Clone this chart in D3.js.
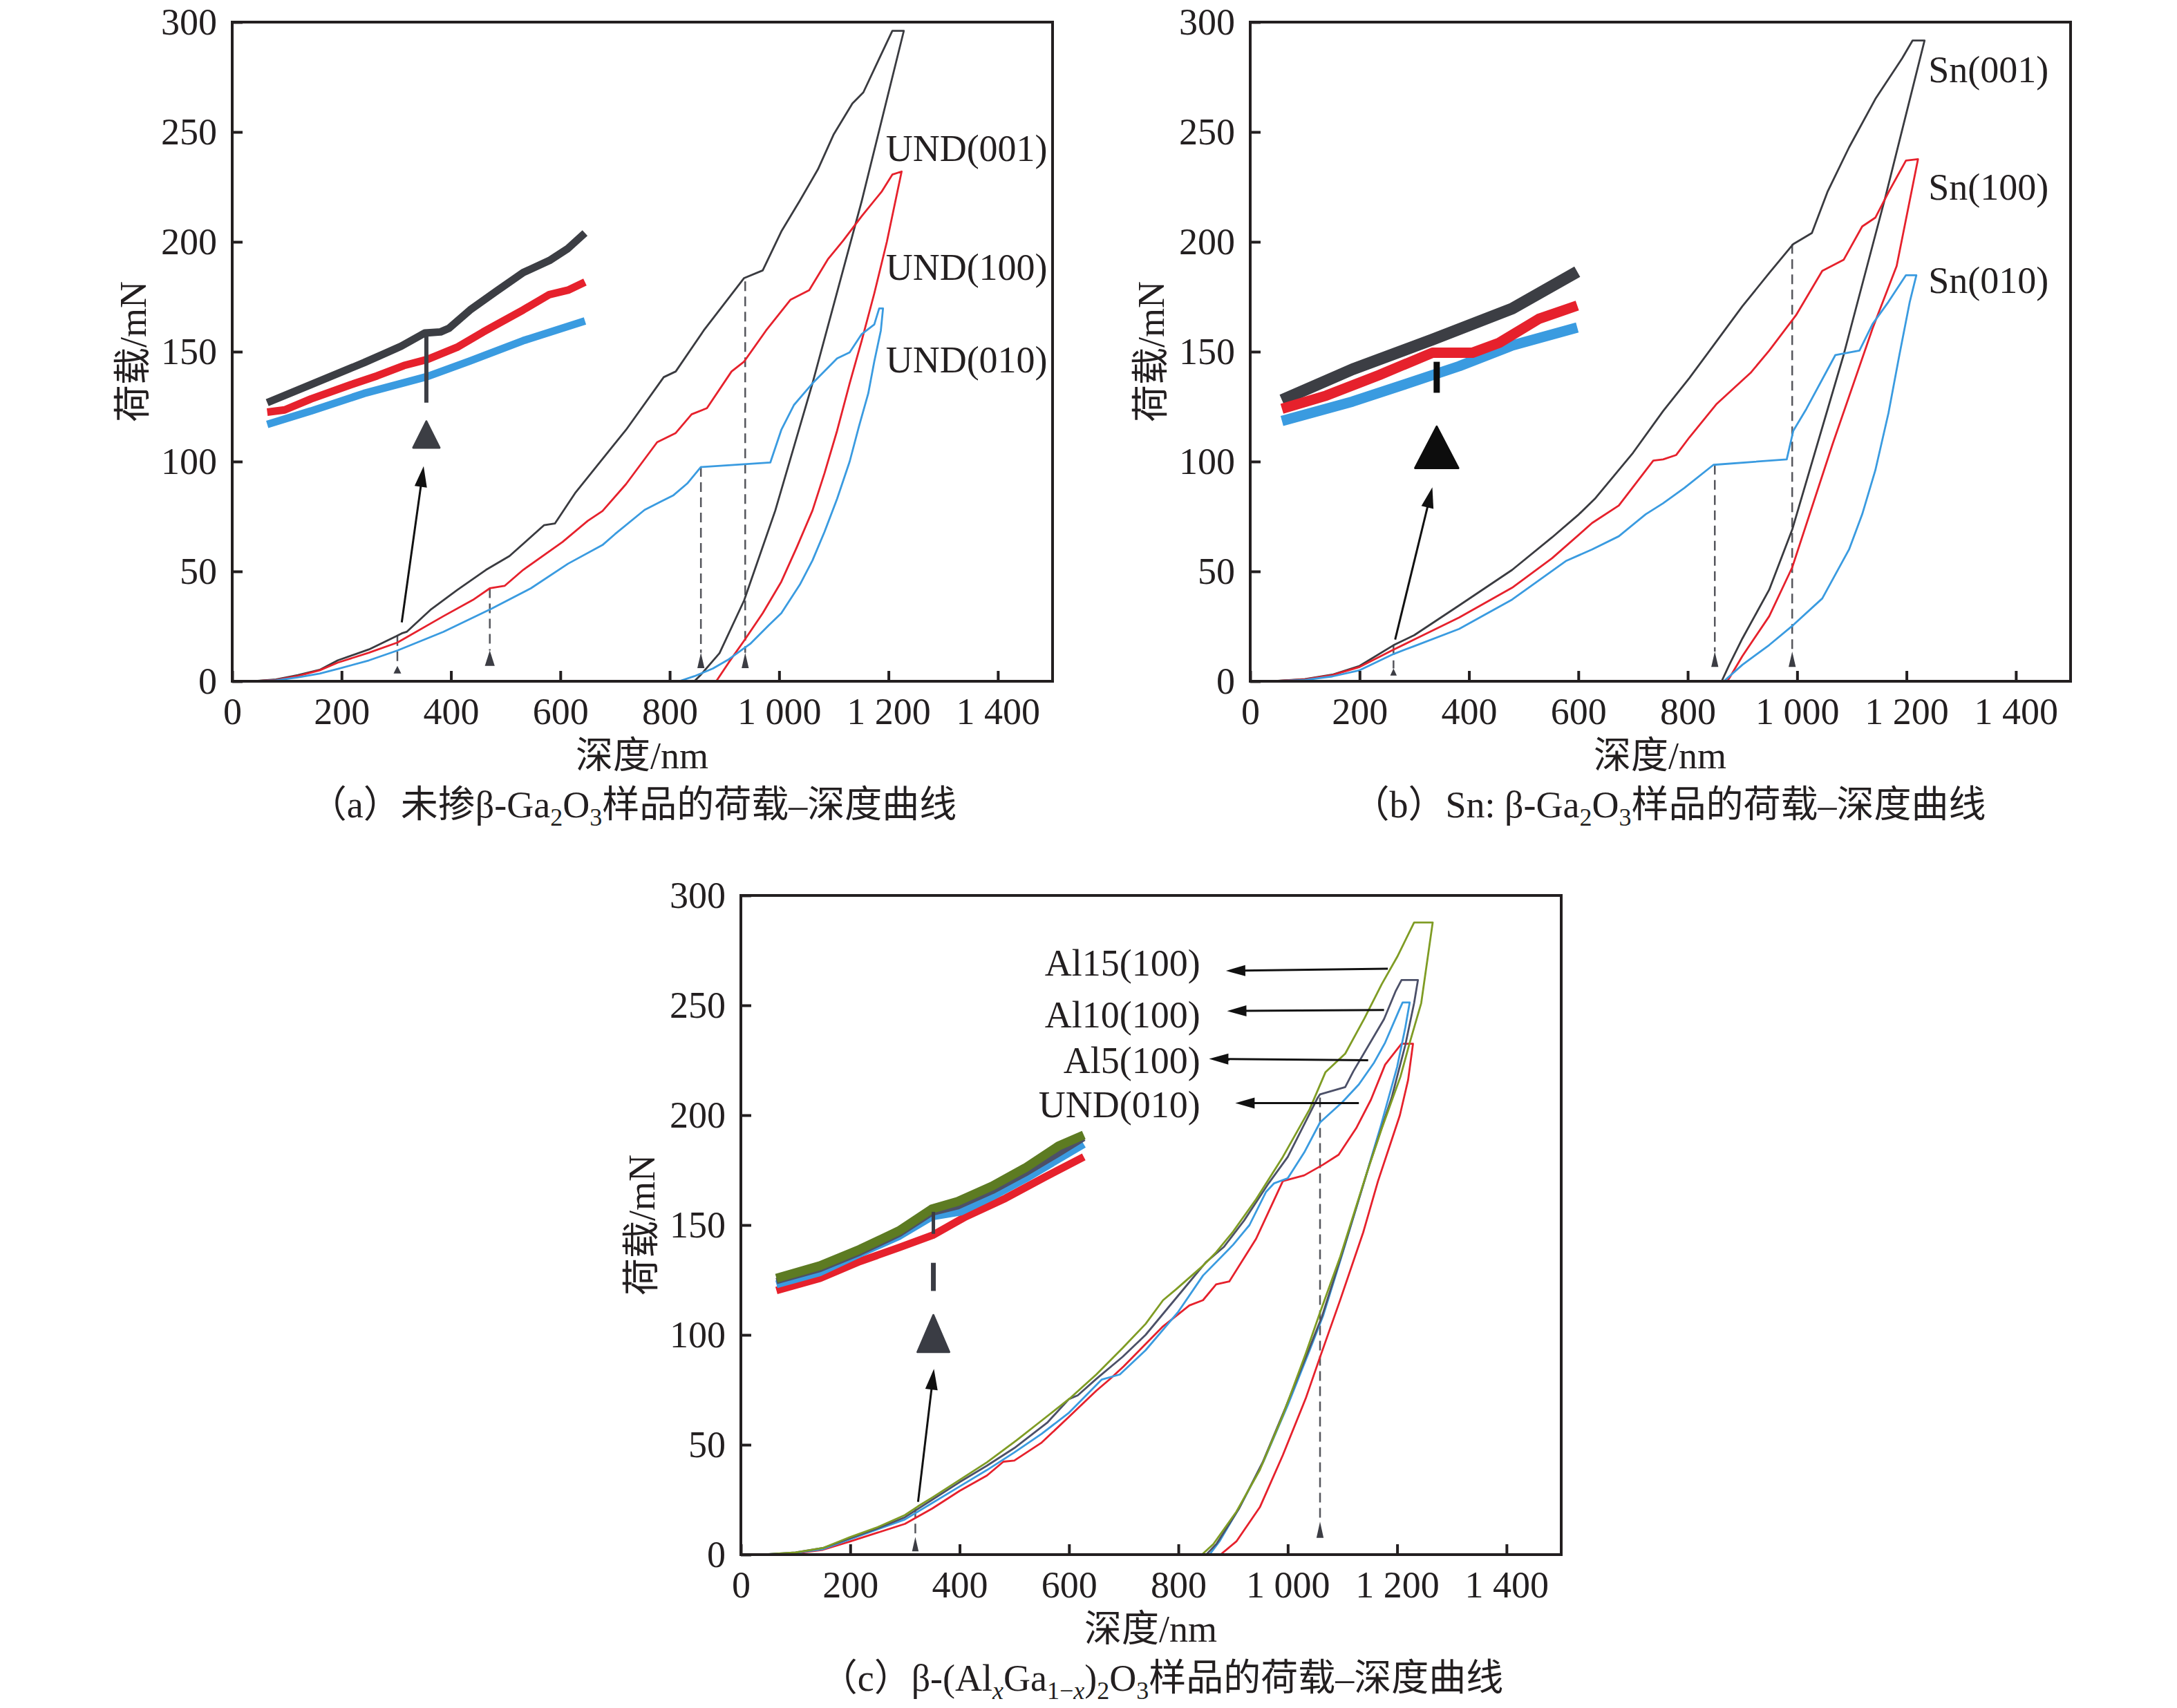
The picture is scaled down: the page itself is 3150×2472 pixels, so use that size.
<!DOCTYPE html>
<html>
<head>
<meta charset="utf-8">
<script src="https://cdn.jsdelivr.net/npm/d3@7"></script>
<style>
  body { margin: 0; background: #fff; }
  text { font-family: "Liberation Serif", "Times New Roman", "Noto Sans CJK SC", serif; fill: #231f20; }
</style>
</head>
<body>
<script>
// tick values shared by all three panels
const depthTicks = [0, 200, 400, 600, 800, 1000, 1200, 1400];
const loadTicks = [0, 50, 100, 150, 200, 250, 300];

// ---- (a) undoped, [depth nm, load mN] ----
const und001A = [[38,0],[80,0.8],[120,2.8],[160,5.2],[193,9.5],[250,14.5],[300,20.5],[310,21.8],[319,22.5],[362,32.4],[411,41.5],[464,50.7],[507,57],[570,71],[590,71.8],[628,86],[696,107],[720,114.4],[789,138.4],[811,141],[862,159.6],[936,183.5],[970,187],[1004,204.7],[1038,218.8],[1071,233],[1100,249],[1134,263],[1154,268],[1183,283.4],[1207,296],[1228,296],
  [1151,218.5],[1061,135.6],[993,77.7],[936,36.8],[891,12.8],[857,3],[845,0]];
const und100A = [[38,0],[80,0.6],[120,2.4],[160,5],[193,8.5],[250,13],[302,17.6],[386,29.6],[440,37],[471,42.3],[498,43.4],[532,50.7],[604,63.4],[650,73],[677,77.5],[720,89.7],[777,108.8],[811,113],[840,121.5],[868,124.3],[913,141],[936,145.5],[976,159.6],[1021,173.7],[1055,178],[1089,192],[1117,200.5],[1151,211.7],[1188,223],[1207,230.6],[1224,232],
  [1197,200],[1174,176.5],[1151,155],[1129,135.6],[1106,114],[1083,94.7],[1061,77.7],[1032,60.8],[1004,45.3],[970,31],[936,18.5],[908,8.6],[885,0]];
const und010A = [[38,0],[80,0.4],[120,1.8],[160,3.5],[193,5.6],[250,9.5],[302,14],[386,22.5],[474,33],[546,42.3],[614,53.5],[677,62],[700,67],[754,78],[783,81.7],[807,84.7],[832,90],[857,97.5],[984,99.6],[1004,114.4],[1027,125.7],[1061,135.6],[1106,146.9],[1129,149.7],[1151,158],[1174,162.4],[1183,169.7],[1190,169.7],
  [1186,159.6],[1174,145.5],[1163,131],[1146,116],[1129,100],[1106,83],[1083,68],[1061,55],[1038,44],[1004,31],[981,25.5],[947,17],[908,10],[879,5.8],[845,2.3],[817,0]];
const insetBlackA = [[64,126.8],[144,135],[241,145],[309,152.5],[352,158.5],[381,159],[396,160.6],[435,169],[483,177.5],[532,186],[580,191.5],[614,197],[645,204]];
const insetRedA = [[64,122.5],[96,123.5],[144,128.5],[217,135],[265,139],[314,143.7],[357,146.5],[411,152],[459,159],[532,169],[580,176],[614,178],[645,181.7]];
const insetBlueA = [[64,116.9],[144,123],[241,131],[357,138.7],[435,145.8],[532,155],[645,164]];

// ---- (b) Sn doped ----
const sn001 = [[40,0],[100,1],[150,3],[200,7],[262,16.4],[300,21],[382,34.5],[479,50.7],[552,65.5],[601,76],[630,83],[700,104],[755,123],[803,138],[852,154.5],[900,170.7],[949,185.8],[993,199],[1027,204],[1056,223],[1095,243],[1143,265],[1192,283.5],[1211,291.6],[1233,291.6],
  [1162,221],[1085,148.5],[991,69],[949,41.7],[900,19.5],[876,7.5],[862,0]];
const sn100 = [[40,0],[100,0.8],[150,2.8],[200,6.5],[262,14.4],[300,19],[382,29],[479,42.6],[552,56],[625,72],[674,80],[737,100.4],[755,101],[779,103],[803,111],[852,126],[915,140.4],[949,150.5],[998,166.6],[1046,186.8],[1085,191.8],[1119,207],[1143,211],[1168,223],[1199,237],[1221,237.6],
  [1182,189],[1138,160.6],[1065,108],[991,51.8],[949,29.6],[900,11.5],[876,1.4],[872,0]];
const sn010 = [[40,0],[100,0.6],[150,2.2],[200,5],[262,12.4],[300,16],[382,23.8],[479,37.2],[577,54.7],[625,60],[674,66],[723,76],[755,81],[794,88],[847,98.5],[981,101],[993,114],[1017,124],[1070,148.5],[1114,150.5],[1138,162.6],[1167,172.7],[1199,184.8],[1218,184.8],
  [1206,172.7],[1187,148.5],[1167,122],[1143,96],[1119,76],[1095,60],[1046,37.7],[993,25.6],[949,16.5],[900,7.5],[866,0]];
const insetBlackB = [[58,128],[187,142],[333,155.5],[479,169.6],[598,186.4]];
const insetRedB = [[58,124],[139,130],[236,139.4],[333,149.5],[406,149.5],[455,154],[528,165],[598,171]];
const insetBlueB = [[58,118.5],[187,127.3],[285,135.3],[382,143.4],[479,152.8],[598,161]];

// ---- (c) (AlGa)2O3 ----
const al15 = [[40,0],[100,1],[150,3],[200,8],[250,12.5],[300,18],[324,22],[350,26],[400,34],[450,42],[504,52],[550,61],[601,71],[650,82],[698,94],[740,105],[772,115.8],[796,120.8],[845,131.5],[869,137.6],[900,147],[942,161.7],[991,181],[1040,202.7],[1069,219.6],[1105,228],[1140,244],[1172,259.7],[1200,272],[1231,287.7],[1265,287.7],
  [1244,251],[1223,233],[1206,217.5],[1172,194],[1143,172.6],[1096,135.6],[1058,109.5],[1033,91.6],[991,63.4],[949,38.6],[906,19.5],[864,4.8],[843,0]];
const al10 = [[40,0],[100,1],[150,3],[200,7.5],[250,12],[300,17],[350,25],[400,33],[450,40.5],[500,48.5],[560,60],[600,70.8],[616,72.5],[650,80],[698,90],[740,100],[800,118],[850,133],[883,140],[920,152],[965,169],[1000,181],[1054,207.6],[1059,209.5],[1105,212.8],[1120,220],[1176,243.7],[1197,256.3],[1208,261.5],[1238,261.5],
  [1231,251],[1215,232],[1190,208],[1150,178],[1103,140],[1062,108],[1038,93],[996,67],[954,42],[911,21],[870,5],[851,0]];
const al5 = [[40,0],[100,0.8],[150,2.5],[200,7],[250,11.5],[300,16],[350,23.5],[400,31],[450,38.5],[500,46.5],[550,55],[600,64.6],[660,79.7],[693,82],[740,93],[800,110.6],[845,127],[900,141],[930,150],[960,165],[975,169],[1000,171.3],[1030,183],[1059,196.7],[1100,206],[1130,214],[1158,224],[1178,233],[1204,248],[1210,251.3],[1223,251.3],
  [1215,240],[1200,222],[1170,195],[1140,170],[1100,137],[1065,109],[1040,93],[1000,68],[955,42],[913,22],[875,6],[857,0]];
const und010C = [[40,0],[100,0.6],[150,2.2],[200,6],[250,10],[300,14],[350,21],[400,29],[450,36],[480,42.3],[500,42.8],[550,51],[601,63],[650,74.6],[674,79.7],[700,85.7],[772,103.9],[820,113.4],[845,115.8],[869,123],[893,124.3],[942,143.7],[991,170],[1030,172.6],[1064,177.4],[1093,182],[1125,194],[1152,207],[1178,223],[1200,230],[1208,232.5],[1229,232.5],
  [1220,216],[1205,200],[1185,185],[1165,170],[1138,146.7],[1096,116],[1058,89.2],[1033,71.2],[991,45.3],[949,21.6],[906,6],[877,0]];
const insetGreenC = [[65,125.8],[145,131.5],[218,139],[290,147.5],[349,157.3],[397,160.8],[460,167.8],[520,176],[581,186],[627,191]];
const insetGrayC = [[65,124.5],[145,130],[218,137.5],[290,146],[349,155.5],[397,158.5],[460,165.5],[520,173.5],[581,182.5],[627,189.6]];
const insetBlueC = [[65,123],[145,128.5],[218,137],[290,145],[349,153.8],[402,156],[460,163],[520,171],[581,180],[627,186.8]];
const insetRedC = [[65,120.2],[145,125.8],[218,133.5],[290,139.8],[351,145.4],[411,153.8],[484,162.2],[557,172],[627,181]];

// vertical dashed markers: [depth, load where it starts, triangle apex, triangle base, triangle half width nm]
const marksA = [[302,20.5,7,3.5,7],[471,42.3,14,7,9],[857,97.5,13,6,6.5],[938,182,13,6,6.5]];
const marksB = [[262,16.4,5.8,2.6,6],[849.5,98.5,13.5,6.5,6.5],[991,199,13.5,6.5,6.5]];
const marksC = [[319,21,8,1.5,6],[1059,208,15,7.6,6.5]];

const C = { black: "#3a3b40", red: "#e6212c", blue: "#3a9be0", green: "#7f9c24", slate: "#4c5068", ink: "#231f20" };

const svg = d3.select("body").append("svg")
  .attr("width", 3150).attr("height", 2472)
  .style("background", "#fff");

const fmt = d => d >= 1000 ? Math.floor(d / 1000) + " " + String(d % 1000).padStart(3, "0") : String(d);

function arrow(g, p1, p2, len, hw, col) {
  const dx = p2[0] - p1[0], dy = p2[1] - p1[1];
  const L = Math.hypot(dx, dy), ux = dx / L, uy = dy / L;
  const bx = p2[0] - ux * len, by = p2[1] - uy * len;
  g.append("line").attr("x1", p1[0]).attr("y1", p1[1])
    .attr("x2", bx + ux * 4).attr("y2", by + uy * 4)
    .attr("stroke", col).attr("stroke-width", 3);
  g.append("polygon")
    .attr("points", [[p2[0], p2[1]], [bx - uy * hw, by + ux * hw], [bx + uy * hw, by - ux * hw]].join(" "))
    .attr("fill", col);
}

function panel(cfg) {
  const x = d3.scaleLinear().domain([0, 1500]).range([cfg.left, cfg.left + 1187]);
  const y = d3.scaleLinear().domain([0, 300]).range([cfg.top + 954, cfg.top]);
  const g = svg.append("g");
  const line = d3.line().x(d => x(d[0])).y(d => y(d[1]));

  // insets (magnified traces)
  cfg.insets.forEach(s => g.append("path").datum(s.data)
    .attr("d", line).attr("fill", "none").attr("stroke", s.color)
    .attr("stroke-width", s.w).attr("stroke-linejoin", "round"));

  // inset pointer: short bar, big triangle, arrow
  const im = cfg.inset;
  im.bars.forEach(b => g.append("line")
    .attr("x1", x(im.depth)).attr("x2", x(im.depth))
    .attr("y1", y(b[0])).attr("y2", y(b[1]))
    .attr("stroke", im.color).attr("stroke-width", b[2]));
  g.append("polygon")
    .attr("points", [[x(im.depth - im.hw), y(im.base)], [x(im.depth + im.hw), y(im.base)], [x(im.depth), y(im.apex)]].join(" "))
    .attr("fill", im.color).attr("stroke", im.color).attr("stroke-width", 3).attr("stroke-linejoin", "round");
  arrow(g, [x(im.from[0]), y(im.from[1])], [x(im.to[0]), y(im.to[1])], 30, 9, "#111");

  // dashed markers
  cfg.marks.forEach(m => {
    g.append("line").attr("x1", x(m[0])).attr("x2", x(m[0]))
      .attr("y1", y(m[1])).attr("y2", y(m[2]))
      .attr("stroke", "#55565c").attr("stroke-width", 2.5).attr("stroke-dasharray", "14,8");
    g.append("polygon")
      .attr("points", [[x(m[0] - m[4]), y(m[3])], [x(m[0] + m[4]), y(m[3])], [x(m[0]), y(m[2])]].join(" "))
      .attr("fill", "#3c3d44");
  });

  // main curves
  cfg.series.forEach(s => g.append("path").datum(s.data)
    .attr("d", line).attr("fill", "none").attr("stroke", s.color)
    .attr("stroke-width", 2.8).attr("stroke-linejoin", "round"));

  // axes
  const xa = g.append("g").attr("transform", `translate(0,${cfg.top + 954})`)
    .call(d3.axisBottom(x).tickValues(depthTicks).tickFormat(fmt).tickSize(-15).tickPadding(24));
  const ya = g.append("g").attr("transform", `translate(${cfg.left},0)`)
    .call(d3.axisLeft(y).tickValues(loadTicks).tickFormat(fmt).tickSize(-15).tickPadding(22));
  [xa, ya].forEach(a => {
    a.select(".domain").remove();
    a.selectAll(".tick line").attr("stroke", C.ink).attr("stroke-width", 4);
    a.selectAll(".tick text").style("font-size", "54px").attr("fill", C.ink);
  });
  g.append("rect").attr("x", cfg.left).attr("y", cfg.top).attr("width", 1187).attr("height", 954)
    .attr("fill", "none").attr("stroke", C.ink).attr("stroke-width", 4);

  // series labels
  cfg.labels.forEach(l => g.append("text")
    .attr("x", x(l[1])).attr("y", y(l[2])).attr("dy", "0.35em")
    .attr("text-anchor", l[3]).style("font-size", "54px").text(l[0]));
  (cfg.pointers || []).forEach(p => arrow(g, [x(p[0]), y(p[1])], [x(p[2]), y(p[3])], 28, 8, "#111"));

  // axis titles
  g.append("text").attr("x", cfg.left + 593).attr("y", cfg.top + 954 + 126)
    .attr("text-anchor", "middle").style("font-size", "54px").text("深度/nm");
  g.append("text").attr("transform", `translate(${cfg.left - 144},${cfg.top + 477}) rotate(-90)`)
    .attr("text-anchor", "middle").attr("dy", "0.35em").style("font-size", "54px").text("荷载/mN");

  // caption with subscripts
  const cap = g.append("text").attr("x", cfg.capX).attr("y", cfg.top + 954 + 197)
    .attr("text-anchor", "middle").style("font-size", "54px");
  let low = false;
  cfg.caption.forEach(p => {
    const t = cap.append("tspan").text(p.t);
    if (p.sub && !low) { t.attr("dy", 12); low = true; }
    if (!p.sub && low) { t.attr("dy", -12); low = false; }
    if (p.sub) t.style("font-size", "36px");
    if (p.it) t.style("font-style", "italic");
  });
}

panel({
  left: 336, top: 32, capX: 916,
  series: [{ data: und001A, color: C.black }, { data: und100A, color: C.red }, { data: und010A, color: C.blue }],
  insets: [{ data: insetBlueA, color: C.blue, w: 11 }, { data: insetRedA, color: C.red, w: 11 }, { data: insetBlackA, color: "#3c3e44", w: 11 }],
  inset: { depth: 355, color: "#3c3e44", bars: [[157.7, 126.8, 6]], apex: 118.3, base: 106.3, hw: 24, from: [310, 26.8], to: [350, 97.9] },
  marks: marksA,
  labels: [["UND(001)", 1195, 242.8, "start"], ["UND(100)", 1195, 188.7, "start"], ["UND(010)", 1195, 146.5, "start"]],
  caption: [{ t: "（a）未掺β-Ga" }, { t: "2", sub: true }, { t: "O" }, { t: "3", sub: true }, { t: "样品的荷载–深度曲线" }]
});

panel({
  left: 1809, top: 32, capX: 2415,
  series: [{ data: sn001, color: C.black }, { data: sn100, color: C.red }, { data: sn010, color: C.blue }],
  insets: [{ data: insetBlackB, color: "#3c3e44", w: 17 }, { data: insetBlueB, color: C.blue, w: 15 }, { data: insetRedB, color: C.red, w: 15 }],
  inset: { depth: 341, color: "#0d0d0d", bars: [[145.4, 131.3, 9]], apex: 115.9, base: 97, hw: 39.5, from: [265, 19], to: [333, 88.3] },
  marks: marksB,
  labels: [["Sn(001)", 1240, 278.5, "start"], ["Sn(100)", 1240, 225, "start"], ["Sn(010)", 1240, 182.7, "start"]],
  caption: [{ t: "（b）Sn: β-Ga" }, { t: "2", sub: true }, { t: "O" }, { t: "3", sub: true }, { t: "样品的荷载–深度曲线" }]
});

panel({
  left: 1072, top: 1296, capX: 1681,
  series: [{ data: und010C, color: C.red }, { data: al5, color: C.blue }, { data: al10, color: C.slate }, { data: al15, color: C.green }],
  insets: [{ data: insetRedC, color: C.red, w: 11 }, { data: insetBlueC, color: C.blue, w: 11 }, { data: insetGrayC, color: C.slate, w: 9 }, { data: insetGreenC, color: "#5d7b22", w: 13 }],
  inset: { depth: 352, color: "#3a3c44", bars: [[156, 146, 5], [132.8, 120, 7]], apex: 109, base: 92.2, hw: 29, from: [324, 24], to: [353, 84.5] },
  marks: marksC,
  labels: [["Al15(100)", 840, 269.5, "end"], ["Al10(100)", 840, 246, "end"], ["Al5(100)", 840, 225, "end"], ["UND(010)", 840, 205, "end"]],
  pointers: [[1183, 266.7, 887, 265.7], [1176, 247.9, 889, 247.4], [1147, 225, 856, 225.6], [1130, 205.5, 904, 205.5]],
  caption: [{ t: "（c）β-(Al" }, { t: "x", sub: true, it: true }, { t: "Ga" }, { t: "1−", sub: true }, { t: "x", sub: true, it: true }, { t: ")" }, { t: "2", sub: true }, { t: "O" }, { t: "3", sub: true }, { t: "样品的荷载–深度曲线" }]
});
</script>
</body>
</html>
